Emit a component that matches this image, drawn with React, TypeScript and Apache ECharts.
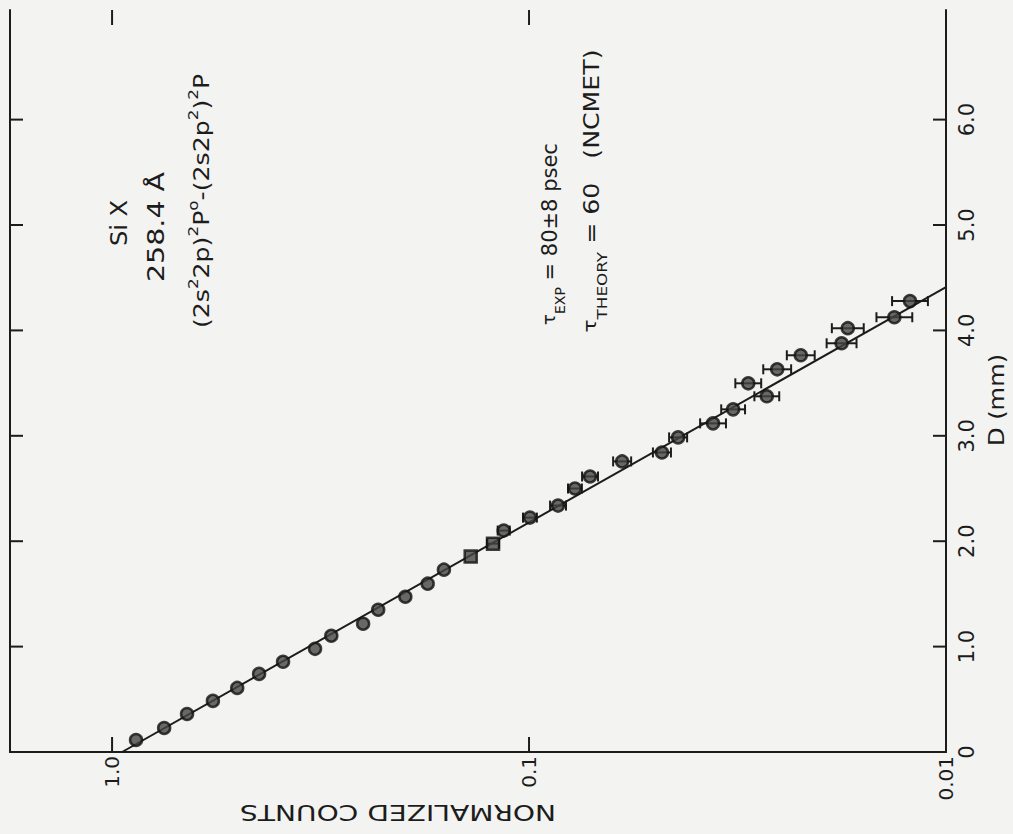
import React, { useEffect, useRef } from 'react';
import * as echarts from 'echarts';

// Distance from foil, D (mm)
const D_MM = [
  0.114, 0.228, 0.361, 0.485, 0.608, 0.741, 0.856, 0.979, 1.103, 1.217,
  1.35, 1.473, 1.597, 1.73, 1.854, 1.977, 2.101, 2.224, 2.338, 2.5,
  2.614, 2.757, 2.842, 2.985, 3.118, 3.251, 3.375, 3.498, 3.631, 3.764,
  3.878, 4.021, 4.125, 4.278,
];
// Normalized counts
const COUNTS = [
  0.876, 0.75, 0.661, 0.573, 0.501, 0.444, 0.389, 0.326, 0.298, 0.25,
  0.23, 0.198, 0.175, 0.16, 0.138, 0.122, 0.115, 0.0995, 0.0852, 0.0776,
  0.0714, 0.0598, 0.048, 0.0439, 0.0362, 0.0324, 0.0269, 0.0298, 0.0254, 0.0223,
  0.0178, 0.0172, 0.0133, 0.0122,
];
// Relative error (fraction) of the counts
const REL_ERR = [
  0, 0, 0, 0, 0, 0, 0, 0, 0, 0,
  0, 0, 0, 0, 0, 0.034, 0.034, 0.039, 0.045, 0.039,
  0.045, 0.051, 0.051, 0.051, 0.074, 0.068, 0.071, 0.074, 0.08, 0.08,
  0.086, 0.092, 0.104, 0.104,
];
const MARKERS = [
  'circle', 'circle', 'circle', 'circle', 'circle', 'circle', 'circle', 'circle', 'circle', 'circle',
  'circle', 'circle', 'circle', 'circle', 'rect', 'rect', 'circle', 'circle', 'circle', 'circle',
  'circle', 'circle', 'circle', 'circle', 'circle', 'circle', 'circle', 'circle', 'circle', 'circle',
  'circle', 'circle', 'circle', 'circle',
];
// Fitted exponential decay line (end points)
const FIT_D = [0, 4.41];
const FIT_COUNTS = [0.946, 0.01];

const COUNT_TICKS = [1, 0.1, 0.01];
const COUNT_TICK_LABELS = ['1.0', '0.1', '0.01'];
const D_TICKS = [0, 1, 2, 3, 4, 5, 6];
const D_TICK_LABELS = ['0', '1.0', '2.0', '3.0', '4.0', '5.0', '6.0'];

const INK = '#1c1c1c';
const PAPER = '#f3f3f1';
const FONT = '"DejaVu Sans", "Liberation Sans", sans-serif';

function countLabel(v: number): string {
  for (let i = 0; i < COUNT_TICKS.length; i++) {
    if (Math.abs(Math.log10(v) - Math.log10(COUNT_TICKS[i])) < 1e-6) return COUNT_TICK_LABELS[i];
  }
  return '';
}
function dLabel(v: number): string {
  for (let i = 0; i < D_TICKS.length; i++) {
    if (Math.abs(v - D_TICKS[i]) < 1e-6) return D_TICK_LABELS[i];
  }
  return '';
}

export default function App() {
  const ref = useRef<HTMLDivElement>(null);
  useEffect(() => {
    if (!ref.current) return;
    const chart = echarts.init(ref.current, undefined, { renderer: 'svg' });
    const axisLine = { show: true, lineStyle: { color: INK, width: 2 } };
    const xCommon = () => ({
      type: 'log' as const,
      logBase: 10,
      min: 0.01,
      max: 1.757,
      inverse: true,
      splitLine: { show: false },
      axisTick: { show: false },
      axisLine,
    });
    const yCommon = () => ({
      type: 'value' as const,
      min: 0,
      max: 7.04,
      interval: 1,
      splitLine: { show: false },
      axisTick: { show: false },
      axisLine,
    });
    const points = D_MM.map((d, i) => ({ value: [COUNTS[i], d], symbol: MARKERS[i] }));
    const errData = D_MM.map((d, i) => [COUNTS[i], d, REL_ERR[i]]);
    const tickStyle = { stroke: INK, lineWidth: 2 };
    const TICK_LEN_X = 15;
    const TICK_LEN_Y = 13;

    const txt = (text: string, x: number, y: number, fontSize: number, scaleX: number, rotation: number) => ({
      type: 'text',
      x,
      y,
      rotation,
      scaleX,
      style: { text, fontSize, fontFamily: FONT, fill: INK, textAlign: 'center', textVerticalAlign: 'middle' },
    });
    const richText = (x: number, y: number, scaleX: number, text: string, rich: any) => ({
      type: 'text',
      x,
      y,
      rotation: Math.PI / 2,
      scaleX,
      style: { text, fontFamily: FONT, fill: INK, textAlign: 'center', textVerticalAlign: 'middle', rich },
    });
    const tauRich = {
      t: { fontSize: 18, lineHeight: 28, fontFamily: FONT, fill: INK, verticalAlign: 'top' },
      b: { fontSize: 14, lineHeight: 14, fontFamily: FONT, fill: INK, verticalAlign: 'bottom' },
      m: { fontSize: 21, lineHeight: 28, fontFamily: FONT, fill: INK, verticalAlign: 'top' },
    };

    const option: any = {
      animation: false,
      backgroundColor: PAPER,
      grid: { left: 10, right: 67, top: 10, bottom: 82 },
      xAxis: [
        {
          ...xCommon(),
          position: 'bottom',
          axisLabel: {
            show: true,
            rotate: 90,
            margin: 4,
            fontSize: 20,
            fontFamily: FONT,
            color: INK,
            formatter: (v: number) => countLabel(v),
          },
        },
        { ...xCommon(), position: 'top', axisLabel: { show: false } },
      ],
      yAxis: [
        {
          ...yCommon(),
          position: 'right',
          axisLabel: {
            show: true,
            rotate: 90,
            margin: 10,
            fontSize: 21,
            fontFamily: FONT,
            color: INK,
            customValues: D_TICKS,
            formatter: (v: number) => dLabel(v),
          },
        },
        { ...yCommon(), position: 'left', axisLabel: { show: false } },
      ],
      series: [
        {
          name: 'D ticks',
          type: 'custom',
          xAxisIndex: 0,
          yAxisIndex: 0,
          silent: true,
          clip: false,
          data: D_TICKS.map((d) => [1, d]),
          encode: { x: 0, y: 1 },
          z: 1,
          renderItem: (params: any, api: any) => {
            const cs = params.coordSys;
            const p = api.coord([api.value(0), api.value(1)]);
            const l = cs.x;
            const r = cs.x + cs.width;
            return {
              type: 'group',
              children: [
                { type: 'line', shape: { x1: l, y1: p[1], x2: l + TICK_LEN_Y, y2: p[1] }, style: tickStyle },
                { type: 'line', shape: { x1: r, y1: p[1], x2: r - TICK_LEN_Y, y2: p[1] }, style: tickStyle },
              ],
            };
          },
        },
        {
          name: 'count ticks',
          type: 'custom',
          xAxisIndex: 0,
          yAxisIndex: 0,
          silent: true,
          clip: false,
          data: COUNT_TICKS.map((c) => [c, 3]),
          encode: { x: 0, y: 1 },
          z: 1,
          renderItem: (params: any, api: any) => {
            const cs = params.coordSys;
            const p = api.coord([api.value(0), api.value(1)]);
            const t = cs.y;
            const b = cs.y + cs.height;
            return {
              type: 'group',
              children: [
                { type: 'line', shape: { x1: p[0], y1: b, x2: p[0], y2: b - TICK_LEN_X }, style: tickStyle },
                { type: 'line', shape: { x1: p[0], y1: t, x2: p[0], y2: t + TICK_LEN_X }, style: tickStyle },
              ],
            };
          },
        },
        {
          name: 'fit',
          type: 'line',
          xAxisIndex: 0,
          yAxisIndex: 0,
          data: FIT_D.map((d, i) => [FIT_COUNTS[i], d]),
          symbol: 'none',
          lineStyle: { color: INK, width: 2 },
          z: 2,
        },
        {
          name: 'errors',
          type: 'custom',
          xAxisIndex: 0,
          yAxisIndex: 0,
          data: errData,
          encode: { x: 0, y: 1 },
          z: 3,
          renderItem: (params: any, api: any) => {
            const v = api.value(0);
            const d = api.value(1);
            const e = api.value(2);
            if (!e) return null;
            const p1 = api.coord([v / (1 + e), d]);
            const p2 = api.coord([v * (1 + e), d]);
            const cap = 5;
            const st = { stroke: INK, lineWidth: 2 };
            return {
              type: 'group',
              children: [
                { type: 'line', shape: { x1: p1[0], y1: p1[1], x2: p2[0], y2: p2[1] }, style: st },
                { type: 'line', shape: { x1: p1[0], y1: p1[1] - cap, x2: p1[0], y2: p1[1] + cap }, style: st },
                { type: 'line', shape: { x1: p2[0], y1: p2[1] - cap, x2: p2[0], y2: p2[1] + cap }, style: st },
              ],
            };
          },
        },
        {
          name: 'normalized counts',
          type: 'scatter',
          xAxisIndex: 0,
          yAxisIndex: 0,
          data: points,
          symbolSize: 12,
          itemStyle: { color: '#454545', borderColor: '#111', borderWidth: 2.5 },
          z: 4,
        },
      ],
      graphic: [
        txt('Si Ⅹ', 119, 223, 23, 1.05, Math.PI / 2),
        txt('258.4 Å', 156, 227, 23, 1.24, Math.PI / 2),
        richText(199, 201, 1.2, '{m|(2s}{s|2}{m|2p)}{s|2}{m|P}{s|o}{m|-(2s2p}{s|2}{m|)}{s|2}{m|P}', {
          m: { fontSize: 21, lineHeight: 25, fontFamily: FONT, fill: INK, verticalAlign: 'bottom' },
          s: { fontSize: 14, lineHeight: 14, fontFamily: FONT, fill: INK, verticalAlign: 'top' },
        }),
        richText(553, 234, 1, '{t|τ}{b|EXP}{m| = 80±8 psec}', tauRich),
        richText(595, 191, 1.2, '{t|τ}{b|THEORY}{m| = 60   (NCMET)}', tauRich),
        txt('D (mm)', 997, 400, 21, 1.15, Math.PI / 2),
        txt('NORMALIZED COUNTS', 398, 812, 21, 1.34, Math.PI),
      ],
    };
    chart.setOption(option);
    return () => chart.dispose();
  }, []);
  return (
    <div
      ref={ref}
      style={{ position: 'fixed', left: 0, top: 0, width: 1013, height: 834, background: PAPER }}
    />
  );
}
